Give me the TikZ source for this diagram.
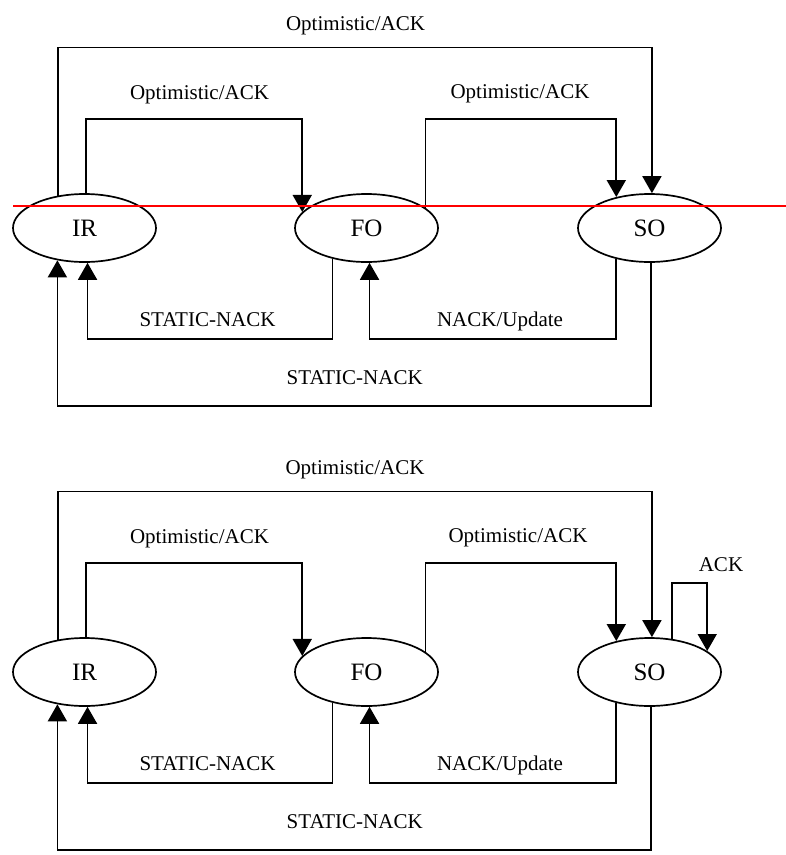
\documentclass[tikz,border=0pt]{standalone}
\usepackage{fontspec}
\setmainfont{Liberation Serif}
\usetikzlibrary{shapes.geometric,arrows.meta}
\definecolor{markred}{RGB}{255,0,0}
\begin{document}
\begin{tikzpicture}[x=1pt,y=-1pt,
  state/.style={ellipse, draw, line width=1.7pt, minimum width=143pt,
    minimum height=68pt, inner sep=0pt, font=\fontsize{25}{30}\selectfont},
  lbl/.style={anchor=base, inner sep=0pt, font=\fontsize{21}{25}\selectfont},
  wire/.style={line width=1.7pt},
  arr/.style={-{Triangle[width=19pt,length=17pt]}}]
\useasboundingbox (0,0) rectangle (786,855);

% ---------- upper machine ----------
\node[state] (IR) at (84.5,228) {IR};
\node[state] (FO) at (366.5,228) {FO};
\node[state] (SO) at (649.5,228) {SO};

\coordinate (uTop)  at (355,47.5);
\coordinate (uMidL) at (200,119);
\coordinate (uMidR) at (520,119);
\coordinate (uLowL) at (200,339.3);
\coordinate (uLowR) at (500,339.3);
\coordinate (uBot)  at (355,406);

\draw[wire,arr] (IR.129) |- (uTop)  -| (SO.86);
\draw[wire,arr] (IR.88)  |- (uMidL) -| (FO.166);
\draw[wire,arr] (FO.19)  |- (uMidR) -| (SO.137);
\draw[wire,arr] (FO.222) |- (uLowL) -| (IR.275);
\draw[wire,arr] (SO.223) |- (uLowR) -| (FO.275);
\draw[wire,arr] (SO.272) |- (uBot)  -| (IR.230);

\node[lbl] (uLabTop)  at (355.5,30.7) {Optimistic/ACK};
\node[lbl] (uLabL)    at (199.5,99)   {Optimistic/ACK};
\node[lbl] (uLabR)    at (520,98.5)   {Optimistic/ACK};
\node[lbl] (uLabSN)   at (207.5,326.7) {STATIC-NACK};
\node[lbl] (uLabNU)   at (500,326.7)  {NACK/Update};
\node[lbl] (uLabBot)  at (354.7,384)  {STATIC-NACK};

% red marker line across the upper machine
\coordinate (redL) at (13,205.7);
\coordinate (redR) at (786,205.7);
\draw[markred, line width=2pt] (redL) -- (redR);

% ---------- lower machine ----------
\node[state] (IRb) at (84.5,672) {IR};
\node[state] (FOb) at (366.5,672) {FO};
\node[state] (SOb) at (649.5,672) {SO};

\coordinate (lTop)  at (355,491.5);
\coordinate (lMidL) at (200,563);
\coordinate (lMidR) at (520,563);
\coordinate (lLowL) at (200,783.3);
\coordinate (lLowR) at (500,783.3);
\coordinate (lBot)  at (355,850);
\coordinate (ackTop) at (690,583.3);

\draw[wire,arr] (IRb.129) |- (lTop)  -| (SOb.86);
\draw[wire,arr] (IRb.88)  |- (lMidL) -| (FOb.166);
\draw[wire,arr] (FOb.19)  |- (lMidR) -| (SOb.137);
\draw[wire,arr] (FOb.222) |- (lLowL) -| (IRb.275);
\draw[wire,arr] (SOb.223) |- (lLowR) -| (FOb.275);
\draw[wire,arr] (SOb.272) |- (lBot)  -| (IRb.230);
\draw[wire,arr] (SOb.56)  |- (ackTop) -| (SOb.20);

\node[lbl] (lLabTop)  at (355,474.7)  {Optimistic/ACK};
\node[lbl] (lLabL)    at (199.5,543)  {Optimistic/ACK};
\node[lbl] (lLabR)    at (518,542.5)  {Optimistic/ACK};
\node[lbl] (lLabSN)   at (207.5,770.7) {STATIC-NACK};
\node[lbl] (lLabNU)   at (500,770.7)  {NACK/Update};
\node[lbl] (lLabBot)  at (354.7,828)  {STATIC-NACK};
\node[lbl] (lLabAck)  at (721,571.7)  {ACK};
\end{tikzpicture}
\end{document}
